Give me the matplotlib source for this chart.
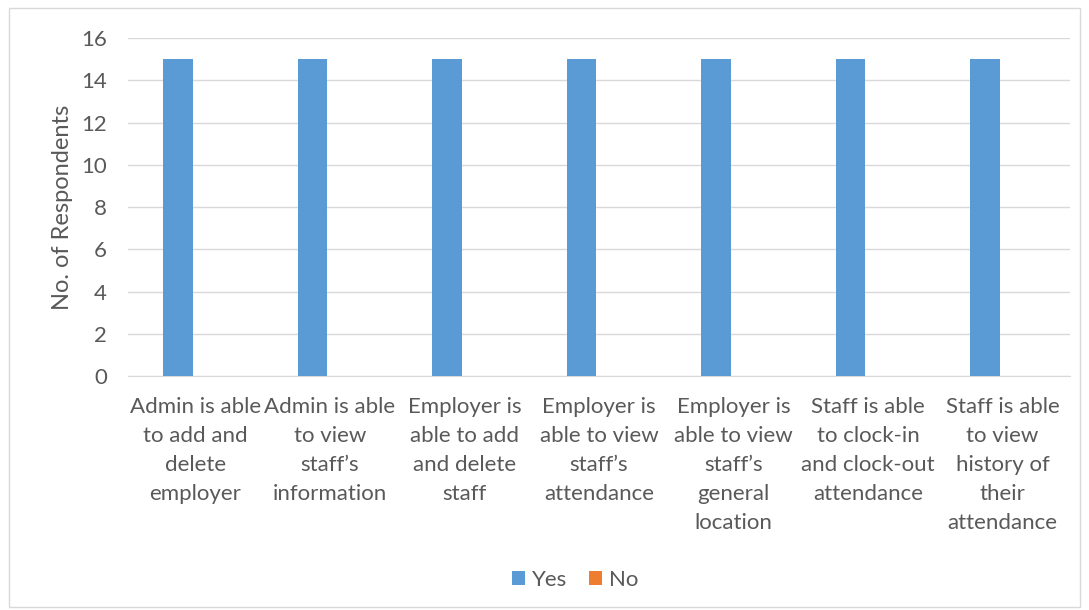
import matplotlib.pyplot as plt
import numpy as np
from matplotlib.patches import Rectangle

plt.rcParams["font.family"] = ["Lato", "DejaVu Sans"]

categories = [
    "Admin is able\nto add and\ndelete\nemployer",
    "Admin is able\nto view\nstaff\u2019s\ninformation",
    "Employer is\nable to add\nand delete\nstaff",
    "Employer is\nable to view\nstaff\u2019s\nattendance",
    "Employer is\nable to view\nstaff\u2019s\ngeneral\nlocation",
    "Staff is able\nto clock-in\nand clock-out\nattendance",
    "Staff is able\nto view\nhistory of\ntheir\nattendance",
]
yes_counts = [15, 15, 15, 15, 15, 15, 15]
no_counts = [0, 0, 0, 0, 0, 0, 0]

BLUE, ORANGE = "#5B9BD5", "#ED7D31"
TXT = "#595959"
GRID = "#D9D9D9"

fig = plt.figure(figsize=(10.89, 6.10), dpi=100)
ax = fig.add_axes([0.1175, 0.3836, 0.865, 0.5541])

x = np.arange(len(categories))
w = 0.22
ax.bar(x - w / 2 - 0.02, yes_counts, w, color=BLUE, label="Yes", zorder=3)
ax.bar(x + w / 2 - 0.02, no_counts, w, color=ORANGE, label="No", zorder=3)

ax.set_xlim(-0.5, len(categories) - 0.5)
ax.set_ylim(0, 16)
ax.set_yticks(range(0, 17, 2))
ax.grid(axis="y", color=GRID, linewidth=1, zorder=0)
ax.set_axisbelow(True)
for s in ["top", "right", "left"]:
    ax.spines[s].set_visible(False)
ax.spines["bottom"].set_color(GRID)
ax.tick_params(axis="both", length=0, colors=TXT, labelsize=16)
ax.tick_params(axis="x", pad=15)
ax.tick_params(axis="y", pad=15)
ax.set_xticks(x)
ax.set_xticklabels(categories, linespacing=1.56)
ax.set_ylabel("No. of Respondents", fontsize=17, color=TXT, labelpad=6)

fig.legend(loc="center", bbox_to_anchor=(0.528, 0.05), ncol=2, frameon=False,
           fontsize=16, labelcolor=TXT, handlelength=0.6, handleheight=0.6,
           handletextpad=0.3, columnspacing=1.0)

fig.patches.append(Rectangle((0.008, 0.005), 0.984, 0.982, transform=fig.transFigure,
                             fill=False, edgecolor=GRID, linewidth=1))

fig.savefig("out.png", dpi=100)
